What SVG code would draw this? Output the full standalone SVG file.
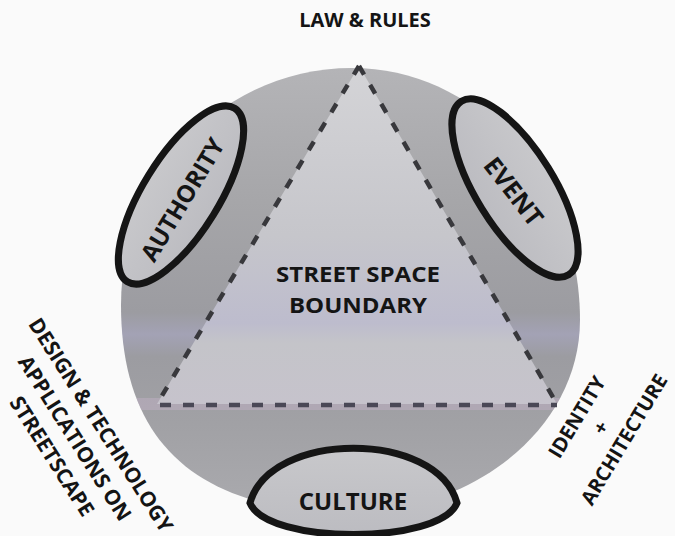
<svg xmlns="http://www.w3.org/2000/svg" width="675" height="536" viewBox="0 0 675 536">
  <style>
    .lbl { font-family: "Open Sans", "Liberation Sans", Arial, sans-serif; font-weight: 700; fill: #141414; }
    .oval { stroke: #151515; stroke-width: 7; }
    .side { stroke: #38383c; stroke-width: 4.5; stroke-dasharray: 10 12; fill: none; }
    .base { stroke: #4a4856; stroke-width: 4.5; stroke-dasharray: 11 12; fill: none; }
  </style>
  <defs>
    <linearGradient id="gCircle" x1="0" y1="0" x2="0" y2="1">
      <stop offset="0" stop-color="#b4b4b7"/>
      <stop offset="0.3" stop-color="#a6a6a9"/>
      <stop offset="0.55" stop-color="#9c9ca1"/>
      <stop offset="0.6" stop-color="#a3a2b5"/>
      <stop offset="0.65" stop-color="#9c9ca1"/>
      <stop offset="0.8" stop-color="#a1a1a5"/>
      <stop offset="1" stop-color="#aaaaae"/>
    </linearGradient>
    <linearGradient id="gTri" x1="0" y1="0" x2="0" y2="1">
      <stop offset="0" stop-color="#d4d4d7"/>
      <stop offset="0.5" stop-color="#c6c6cb"/>
      <stop offset="0.76" stop-color="#bdbccd"/>
      <stop offset="0.82" stop-color="#c4c4c9"/>
      <stop offset="1" stop-color="#c6c3cc"/>
    </linearGradient>
    <linearGradient id="gOval" x1="0" y1="0" x2="0" y2="1">
      <stop offset="0" stop-color="#c8c8cb"/>
      <stop offset="1" stop-color="#bcbcc1"/>
    </linearGradient>
    <clipPath id="clipCircle">
      <path d="M352,68 C478,68 580,181 580,320 C580,426 477,512 350,512 C200,512 121,445 121,305 C121,174 224,68 352,68 Z"/>
    </clipPath>
  </defs>

  <rect x="0" y="0" width="675" height="536" fill="#fafafa"/>

  <g id="circle">
    <path d="M352,68 C478,68 580,181 580,320 C580,426 477,512 350,512 C200,512 121,445 121,305 C121,174 224,68 352,68 Z" fill="url(#gCircle)"/>
    <rect x="115" y="398" width="470" height="12" fill="#c4b2c8" opacity="0.45" clip-path="url(#clipCircle)"/>
  </g>

  <g id="street-space-boundary">
    <polygon points="359,66 557,404 157,404" fill="url(#gTri)"/>
    <line class="side" x1="359" y1="66" x2="157" y2="404"/>
    <line class="side" x1="359" y1="66" x2="557" y2="404"/>
    <line class="base" x1="160" y1="405" x2="557" y2="405"/>
    <text class="lbl" x="358" y="282" font-size="22" text-anchor="middle" textLength="164" lengthAdjust="spacingAndGlyphs">STREET SPACE</text>
    <text class="lbl" x="358" y="313" font-size="22" text-anchor="middle" textLength="138" lengthAdjust="spacingAndGlyphs">BOUNDARY</text>
  </g>

  <g id="authority">
    <ellipse class="oval" cx="0" cy="0" rx="102" ry="38" fill="url(#gOval)" transform="translate(181,195) rotate(-58.3)"/>
    <text class="lbl" x="0" y="8" font-size="24" text-anchor="middle" transform="translate(183,200) rotate(-59)">AUTHORITY</text>
  </g>

  <g id="event">
    <ellipse class="oval" cx="0" cy="0" rx="102" ry="39" fill="url(#gOval)" transform="translate(515,188) rotate(58.3)"/>
    <text class="lbl" x="0" y="8" font-size="25" text-anchor="middle" transform="translate(513,192) rotate(52)">EVENT</text>
  </g>

  <g id="culture">
    <path class="oval" d="M250,503 C270,430 437,430 457,503 C440,545 267,545 250,503 Z" fill="url(#gOval)"/>
    <text class="lbl" x="353" y="510" font-size="24" text-anchor="middle">CULTURE</text>
  </g>

  <g id="law-rules">
    <text class="lbl" x="365" y="27" font-size="20" text-anchor="middle">LAW &amp; RULES</text>
  </g>

  <g id="design-technology">
    <g transform="translate(101,425) rotate(57.5)">
      <text class="lbl" x="0" y="7.5" font-size="21" text-anchor="middle">DESIGN &amp; TECHNOLOGY</text>
      <text class="lbl" x="-3" y="36.5" font-size="21" text-anchor="middle">APPLICATIONS ON</text>
      <text class="lbl" x="0" y="65.5" font-size="21" text-anchor="middle">STREETSCAPE</text>
    </g>
  </g>

  <g id="identity-architecture">
    <g transform="translate(577,417) rotate(-59)">
      <text class="lbl" x="0" y="7" font-size="20" text-anchor="middle">IDENTITY</text>
      <text class="lbl" x="3" y="33" font-size="20" text-anchor="middle">+</text>
      <text class="lbl" x="5" y="59" font-size="20" text-anchor="middle">ARCHITECTURE</text>
    </g>
  </g>

  <g id="connectors"></g>
</svg>
